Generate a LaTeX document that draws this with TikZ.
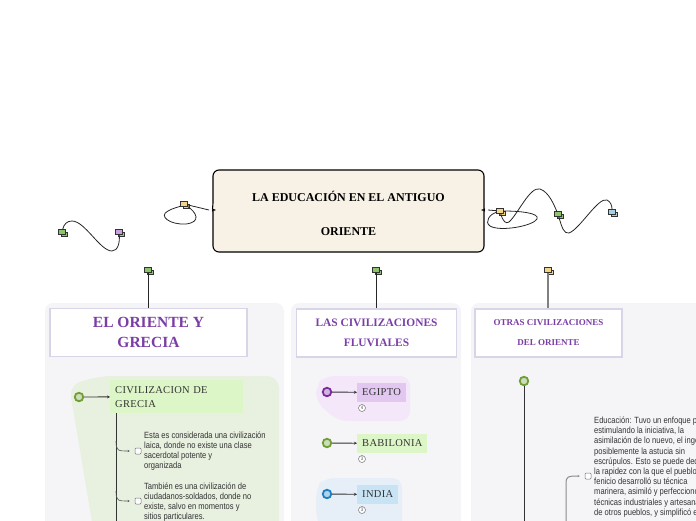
\documentclass[tikz,border=0pt]{standalone}
\usepackage{fontspec}
\setmainfont{Liberation Serif}
\newfontfamily\notefont{Liberation Sans}[FakeStretch=0.84]
\newfontfamily\topicfont{Liberation Serif}[LetterSpace=3]
\usetikzlibrary{arrows.meta,shadows}
\definecolor{panelbg}{HTML}{F5F5F8}
\definecolor{rootbg}{HTML}{F8F1E6}
\definecolor{headline}{HTML}{D9D5E8}
\definecolor{headtext}{HTML}{7B3DA6}
\definecolor{blobg}{HTML}{E8F0E0}
\definecolor{blobp}{HTML}{F4E7FA}
\definecolor{blobb}{HTML}{E6EEF8}
\definecolor{boxg}{HTML}{DDF6C8}
\definecolor{boxp}{HTML}{E2C8F1}
\definecolor{boxb}{HTML}{C8E4F4}
\definecolor{tagg}{HTML}{8CC46C}
\definecolor{tagp}{HTML}{C8A2E0}
\definecolor{tago}{HTML}{F3D48B}
\definecolor{tagb}{HTML}{A9CFE4}
\definecolor{ringg}{HTML}{6F9E35}
\definecolor{ringp}{HTML}{7A2C9E}
\definecolor{ringb}{HTML}{1C7FC4}
\definecolor{ink}{HTML}{333333}

\begin{document}
\begin{tikzpicture}[x=1pt,y=-1pt,
  tag/.style={draw=black!80,fill=#1,line width=.6pt,minimum width=6.5pt,minimum height=4.5pt,inner sep=0pt,
    copy shadow={shadow xshift=2.5pt,shadow yshift=-2.5pt}},
  wire/.style={line width=.8pt,black!85},
  head/.style={draw=headline,line width=1.6pt,fill=white,minimum width=#1,minimum height=48pt,align=center,text=headtext,inner sep=0pt},
  ring/.style={circle,draw=#1,line width=1.8pt,fill=#1!35!white,minimum size=8.5pt,inner sep=0pt},
  topic/.style={fill=#1,minimum height=19pt,inner xsep=5pt,inner ysep=0pt,text=ink,font=\topicfont\fontsize{10.5}{14}\selectfont,anchor=west},
  arr/.style={-{Stealth[length=3pt,width=3pt]},line width=.9pt,ink},
  cnt/.style={circle,draw=black!55,fill=white,line width=.5pt,minimum size=7pt,inner sep=0pt,font=\notefont\fontsize{5}{5}\selectfont,text=black!70},
  chk/.style={draw=black!55,fill=white,rounded corners=1pt,line width=.5pt,minimum size=6pt,inner sep=0pt},
  note/.style={anchor=west,align=left,inner sep=0pt,text=ink,font=\notefont\fontsize{9}{10.2}\selectfont},
  twig/.style={-{Stealth[length=2pt,width=2pt]},line width=.6pt,black!65,shorten >=5pt},
  trunk/.style={line width=1pt,ink},
]
\useasboundingbox (0,0) rectangle (696,520);
\clip (0,0) rectangle (696,520);

% column panels and coloured backdrops
\fill[panelbg,rounded corners=8pt] (45,303) rectangle (284,540);
\fill[panelbg,rounded corners=8pt] (291,303) rectangle (461,540);
\fill[panelbg,rounded corners=8pt] (471,303) rectangle (720,540);
\fill[blobg,rounded corners=12pt] (69,385) -- (100,376) -- (279,376) -- (279,540) -- (95,540) -- cycle;
\fill[blobp,rounded corners=10pt] (316,386) -- (324,376) -- (410,376) -- (410,421) -- (338,421) -- (316,402) -- cycle;
\fill[blobb,rounded corners=10pt] (316,488) -- (324,478) -- (402,478) -- (402,540) -- (330,540) -- (316,520) -- cycle;

% central topic
\draw[fill=rootbg,line width=1.1pt,rounded corners=6pt,line join=round] (213,203) -- (213,170) -- (484,170) -- (484,203)
  .. controls (484,208) and (486,210) .. (488,210) .. controls (486,210) and (484,212) .. (484,217)
  -- (484,252) -- (213,252) -- (213,217)
  .. controls (213,212) and (211,210) .. (209,210) .. controls (211,210) and (213,208) .. (213,203);
\node[font=\bfseries\fontsize{12}{34}\selectfont,align=center] (root) at (348.5,213) {LA EDUCACIÓN EN EL ANTIGUO\\ORIENTE};
\coordinate (rootL) at (209,210);
\coordinate (rootR) at (488,210);

% floating tags
\node[tag=tago] (tL) at (184,204) {};
\node[tag=tago] (tR) at (500,211) {};
\node[tag=tagg] (tLg) at (62,232) {};
\node[tag=tagp] (tLp) at (119,232) {};
\node[tag=tagg] (tRg) at (558,214) {};
\node[tag=tagb] (tRb) at (612,212) {};
\node[tag=tagg] (t1) at (148,270) {};
\node[tag=tagg] (t2) at (376,270) {};
\node[tag=tago] (t3) at (548,270) {};

\draw[wire] (rootL) -- (tL);
\draw[wire] (tL) .. controls (196,212) and (202,222) .. (186,224) .. controls (170,225) and (158,216) .. (168,211) .. controls (173,208) and (179,207) .. (tL);
\draw[wire] (rootR) -- (tR);
\draw[wire] (tR) .. controls (520,211) and (540,213) .. (537,219) .. controls (533,226) and (500,232) .. (490,226) .. controls (484,222) and (490,214) .. (tR);
\draw[wire] (tR) .. controls (503,222) and (506,224) .. (509,222) .. controls (518,214) and (530,186) .. (540,189) .. controls (549,192) and (554,205) .. (tRg);
\draw[wire] (tRg) .. controls (562,228) and (564,234) .. (569,233) .. controls (580,229) and (598,197) .. (607,200) .. controls (611,202) and (612,206) .. (tRb);
\draw[wire] (tLg) .. controls (64,224) and (67,221) .. (72,221) .. controls (85,221) and (100,251) .. (112,251) .. controls (118,251) and (120,242) .. (tLp);

% column heads
\node[head=197pt,font=\bfseries\fontsize{15.5}{20}\selectfont] (h1) at (148.5,332.5) {EL ORIENTE Y\\GRECIA};
\node[head=160pt,font=\bfseries\fontsize{11.4}{20}\selectfont] (h2) at (376.5,333) {LAS CIVILIZACIONES\\FLUVIALES};
\node[head=147pt,font=\bfseries\fontsize{9}{20}\selectfont] (h3) at (548.5,333) {OTRAS CIVILIZACIONES\\DEL ORIENTE};
\draw[wire] (t1) -- (t1 |- h1.north);
\draw[wire] (t2) -- (t2 |- h2.north);
\draw[line width=1.3pt,black!50] (t3) -- (t3 |- h3.north);

% el oriente y grecia
\node[ring=ringg] (r1) at (79,397) {};
\node[topic=boxg,anchor=north west,minimum height=33pt,text width=123pt,align=left] (g1) at (110,380) {CIVILIZACION DE\\GRECIA};
\draw[arr] (r1) -- (g1);
\coordinate (k1) at (116,540);
\draw[trunk] (g1.south west -| k1) -- (k1);
\node[chk] (x11) at (138,451) {};
\node[chk] (x12) at (138,501) {};
\coordinate (b11) at (116,441);
\coordinate (b12) at (116,491);
\draw[twig] (b11) .. controls (116,451) and (118,451) .. (x11);
\draw[twig] (b12) .. controls (116,501) and (118,501) .. (x12);
\node[note] (n11) at (144,451) {Esta es considerada una civilización\\laica, donde no existe una clase\\sacerdotal potente y\\organizada};
\node[note] (n12) at (144,502) {También es una civilización de\\ciudadanos-soldados, donde no\\existe, salvo en momentos y\\sitios particulares.};

% las civilizaciones fluviales
\node[ring=ringp] (r21) at (327,392) {};
\node[topic=boxp] (e21) at (357,392.5) {EGIPTO};
\node[cnt] (m21) at (362,408) {4};
\draw[arr] (r21) -- (e21);
\node[ring=ringg] (r22) at (327,443) {};
\node[topic=boxg] (e22) at (357,443.5) {BABILONIA};
\node[cnt] (m22) at (362,459) {3};
\draw[arr] (r22) -- (e22);
\node[ring=ringb] (r23) at (327,494) {};
\node[topic=boxb] (e23) at (357,494.5) {INDIA};
\node[cnt] (m23) at (362,510) {3};
\draw[arr] (r23) -- (e23);

% otras civilizaciones del oriente
\node[ring=ringg] (r3) at (524,381) {};
\coordinate (k3) at (524,540);
\draw[trunk] (r3) -- (k3);
\node[chk] (x31) at (588,476) {};
\coordinate (k31) at (566,540);
\draw[twig,black!45,line width=1pt] (k31) -- (566,484) .. controls (566,476) and (568,476) .. (x31);
\node[note] (n31) at (594,467) {Educación: Tuvo un enfoque práctico,\\estimulando la iniciativa, la\\asimilación de lo nuevo, el ingenio y\\posiblemente la astucia sin\\escrúpulos. Esto se puede deducir de\\la rapidez con la que el pueblo\\fenicio desarrolló su técnica\\marinera, asimiló y perfeccionó\\técnicas industriales y artesanales\\de otros pueblos, y simplificó el};
\end{tikzpicture}
\end{document}
